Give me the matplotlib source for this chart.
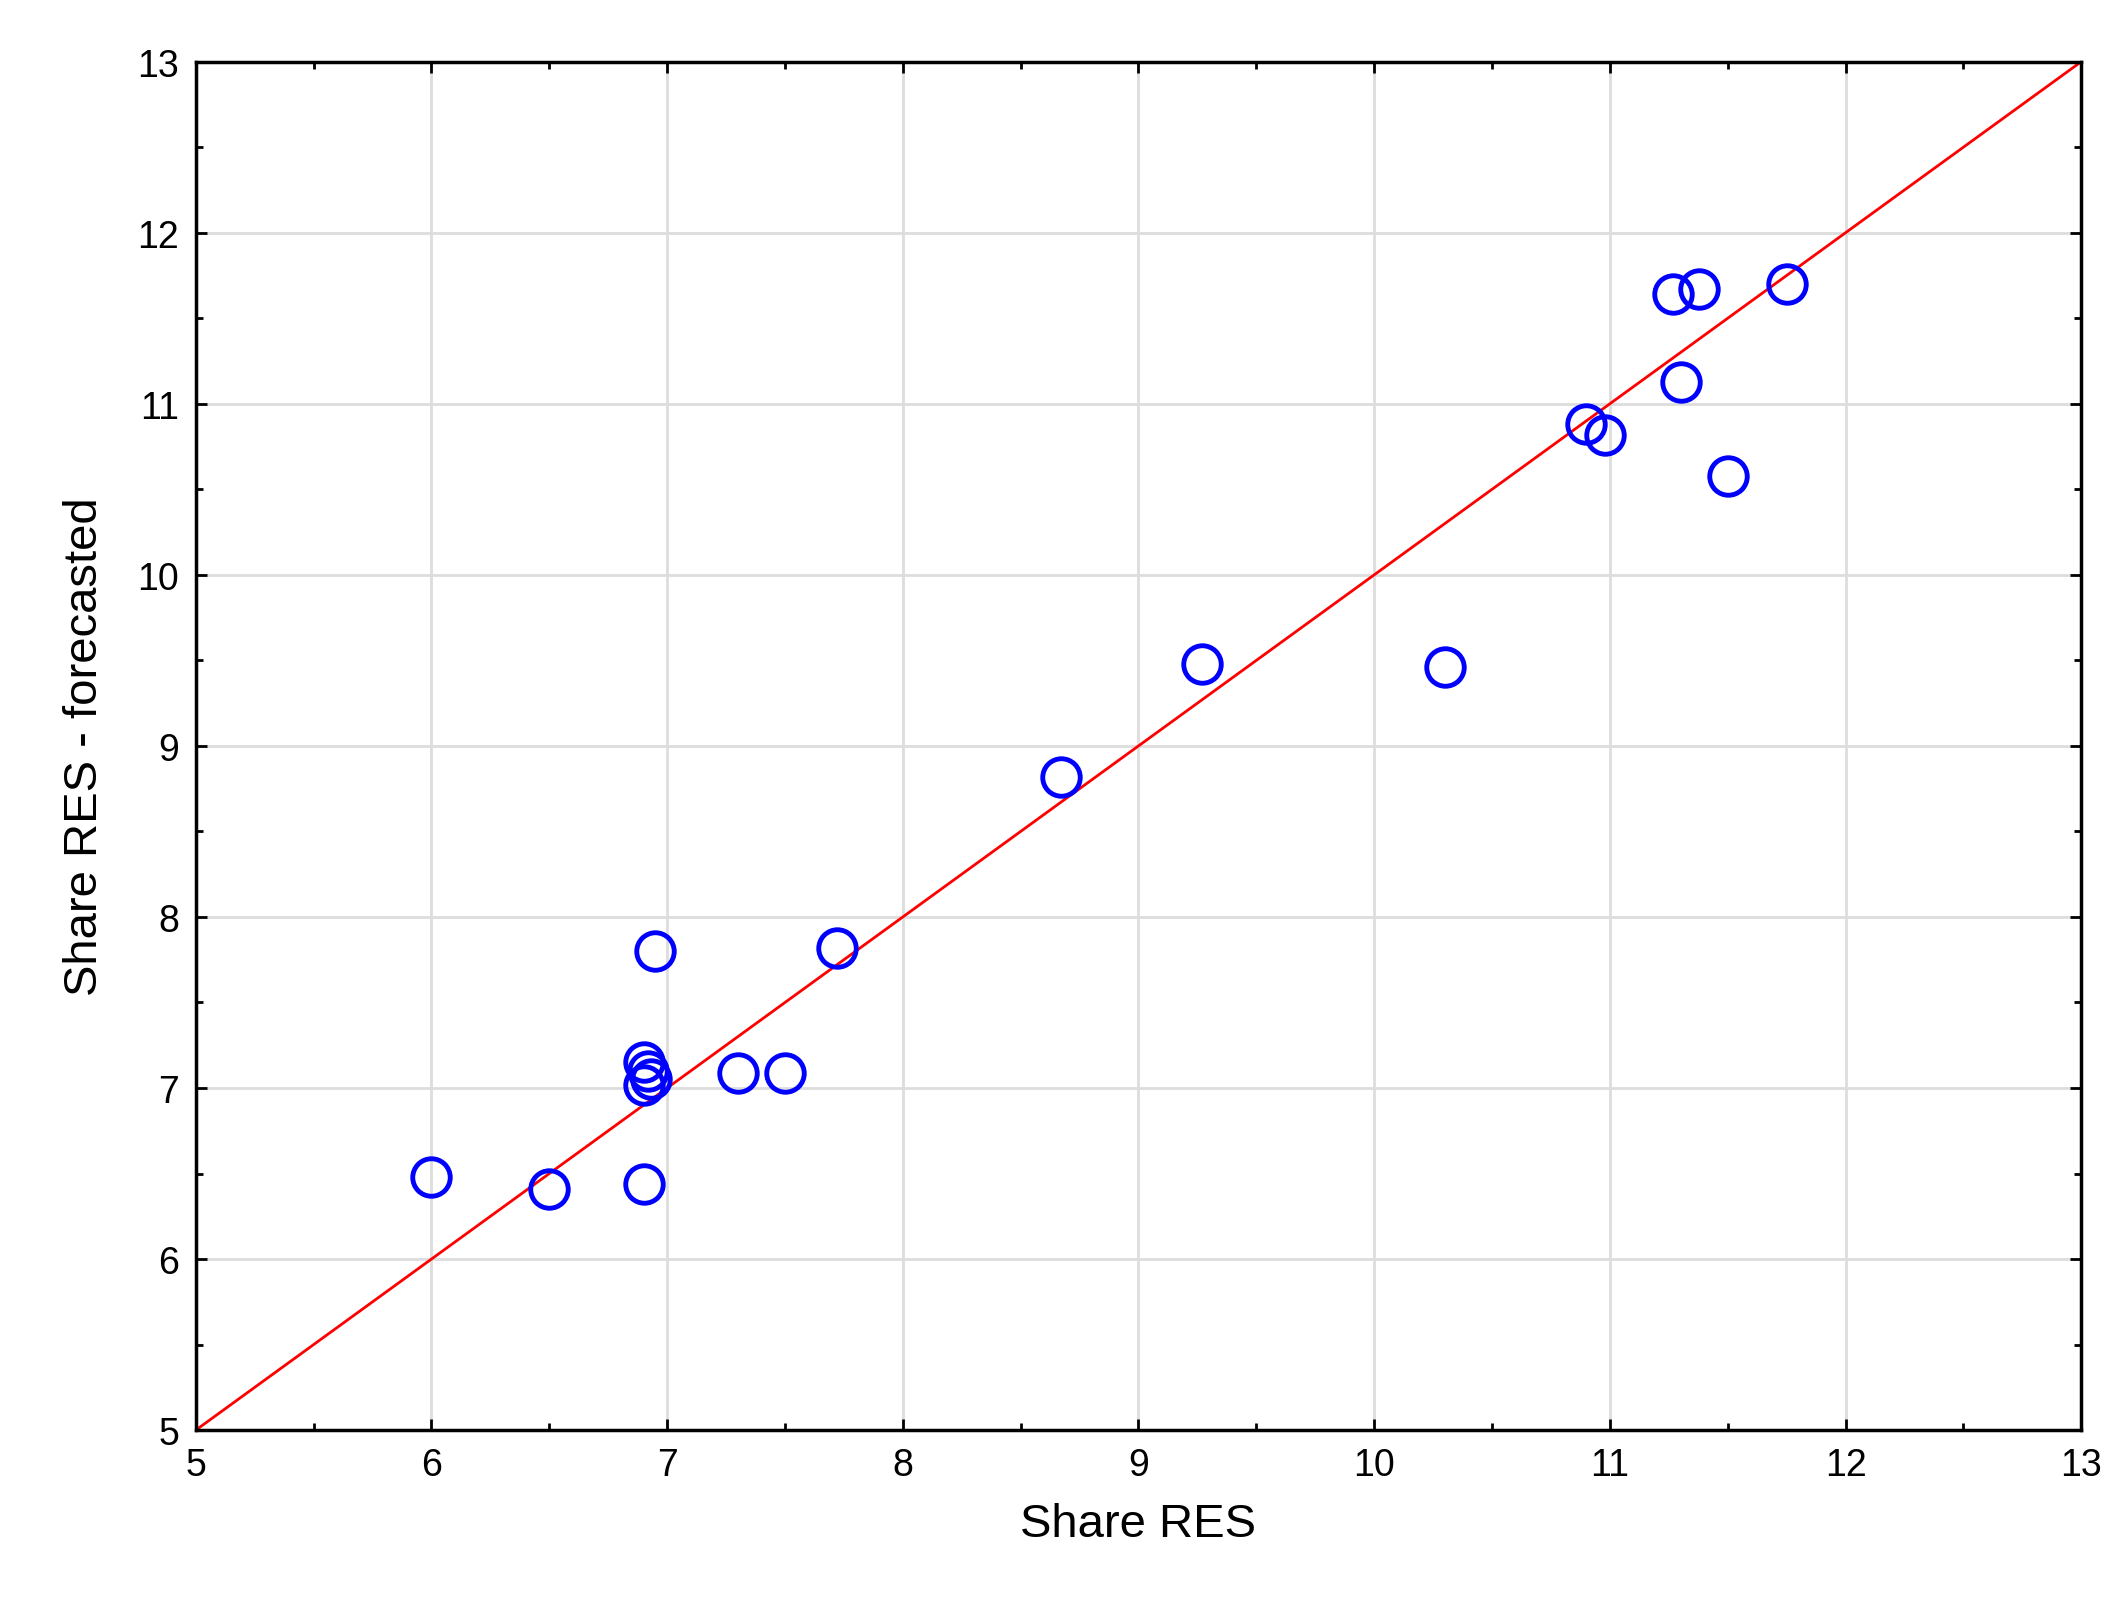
import numpy as np
import matplotlib.pyplot as plt
from matplotlib.ticker import MultipleLocator

plt.rcParams['font.family'] = ['Liberation Sans', 'DejaVu Sans']

share_res = [6.0, 6.5, 6.9, 6.9, 6.92, 6.9, 6.93, 6.95, 7.3, 7.5, 7.72, 8.67,
             9.27, 10.3, 10.9, 10.98, 11.27, 11.38, 11.3, 11.5, 11.75]
forecasted = [6.48, 6.41, 6.44, 7.15, 7.1, 7.02, 7.05, 7.8, 7.09, 7.09, 7.82, 8.82,
              9.48, 9.46, 10.88, 10.82, 11.64, 11.67, 11.13, 10.58, 11.7]
line_x = [5, 13]

fig = plt.figure(figsize=(21.28, 16.08), dpi=100)
ax = fig.add_axes([0.092, 0.11, 0.886, 0.851])

ax.plot(line_x, line_x, color='red', linewidth=2)
ax.plot(share_res, forecasted, 'o', markerfacecolor='none', markeredgecolor='blue',
        markersize=27, markeredgewidth=3.5, clip_on=False)

ax.set_xlim(5, 13)
ax.set_ylim(5, 13)
ax.xaxis.set_major_locator(MultipleLocator(1))
ax.yaxis.set_major_locator(MultipleLocator(1))
ax.xaxis.set_minor_locator(MultipleLocator(0.5))
ax.yaxis.set_minor_locator(MultipleLocator(0.5))
ax.grid(True, which='major', color='#dddddd', linewidth=2)
ax.set_axisbelow(True)
ax.tick_params(which='both', direction='in', top=True, right=True, width=2)
ax.tick_params(which='major', length=8, labelsize=27, pad=12)
ax.tick_params(which='minor', length=5)
for s in ax.spines.values():
    s.set_linewidth(2.5)

ax.set_xlabel('Share RES', fontsize=34, labelpad=14)
ax.set_ylabel('Share RES - forecasted', fontsize=34, labelpad=22)

fig.savefig('out.png', dpi=100, facecolor='white')
